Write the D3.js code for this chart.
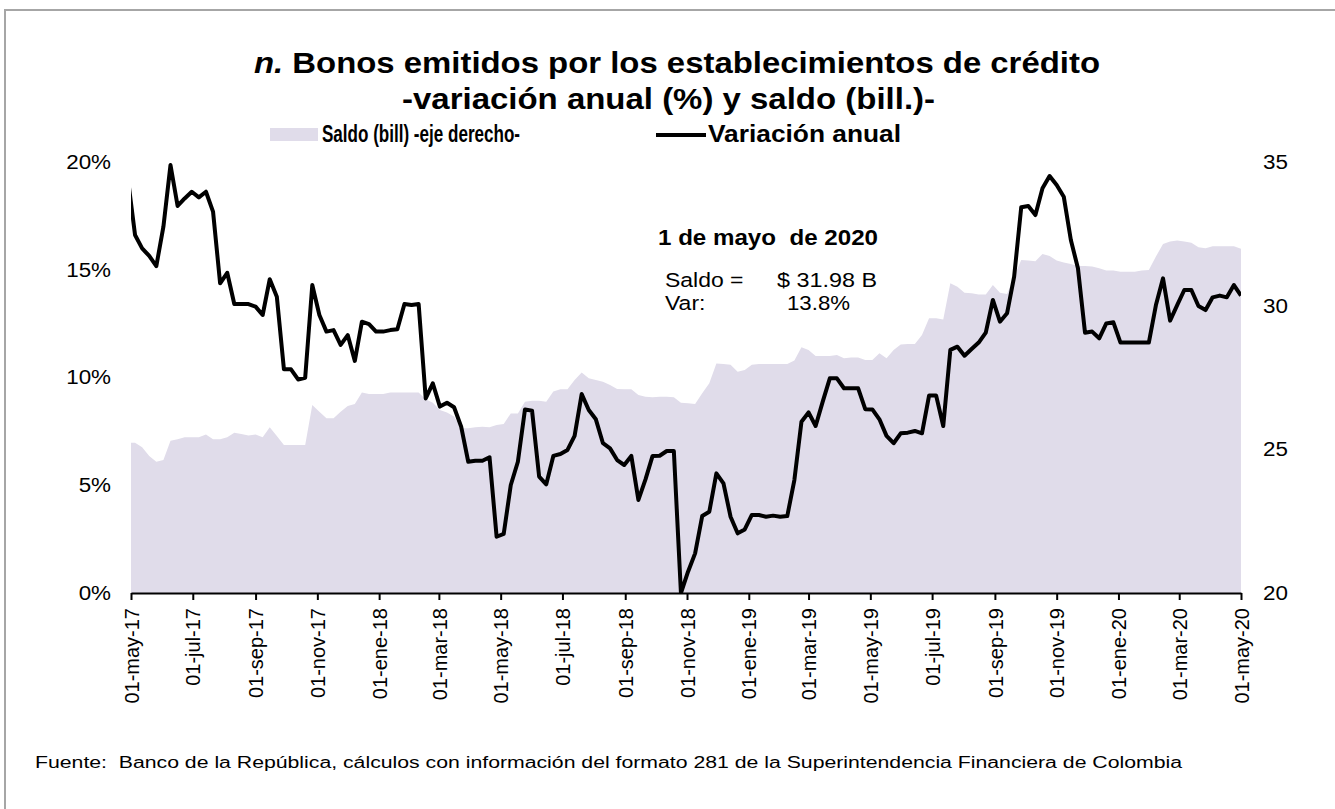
<!DOCTYPE html>
<html><head><meta charset="utf-8">
<script src="https://cdn.jsdelivr.net/npm/d3@7"></script>
<style>
body{margin:0;background:#fff}
svg{display:block}
text{font-family:"Liberation Sans",Arial,sans-serif;fill:#000;white-space:pre}
</style>
</head><body>
<svg id="c" width="1335" height="809"></svg>
<script>
// ---------- data ----------
const firstWeek = "2017-04-28"; // weekly observations (Fridays) up to 2020-05-01
const variacion = [19.2,
16.61,15.99,15.64,15.17,17.0,19.86,17.96,18.31,18.62,18.36,
18.62,17.70,14.37,14.86,13.41,13.41,13.41,13.29,12.90,14.56,
13.75,10.38,10.38,9.91,9.99,14.29,12.90,12.13,12.20,11.51,
11.97,10.77,12.59,12.48,12.13,12.13,12.20,12.24,13.41,13.36,
13.41,9.03,9.73,8.65,8.83,8.62,7.72,6.09,6.14,6.14,
6.30,2.61,2.74,5.01,6.09,8.52,8.46,5.40,5.04,6.36,
6.45,6.64,7.29,9.23,8.49,8.06,6.95,6.71,6.17,5.94,
6.36,4.32,5.27,6.36,6.37,6.59,6.59,0.0,0.99,1.84,
3.57,3.77,5.55,5.09,3.54,2.77,2.95,3.62,3.62,3.54,
3.59,3.54,3.57,5.24,7.95,8.38,7.75,8.88,9.96,9.96,
9.50,9.50,9.50,8.53,8.52,8.06,7.29,6.95,7.41,7.44,
7.52,7.41,9.16,9.16,7.75,11.28,11.43,11.01,11.32,11.62,
12.08,13.60,12.59,12.98,14.68,17.90,17.96,17.54,18.78,19.35,
18.93,18.39,16.38,15.07,12.08,12.13,11.82,12.51,12.56,11.62,
11.62,11.62,11.62,11.62,13.36,14.60,12.64,13.36,14.06,14.06,
13.32,13.13,13.72,13.80,13.72,14.29,13.80];
const saldo = [25.23,
25.23,25.07,24.77,24.57,24.63,25.30,25.35,25.42,25.42,25.42,
25.52,25.35,25.35,25.42,25.58,25.53,25.48,25.52,25.42,25.77,
25.46,25.15,25.15,25.15,25.15,26.54,26.31,26.08,26.08,26.31,
26.51,26.58,26.98,26.93,26.93,26.93,26.98,26.98,26.98,26.98,
26.98,26.74,26.62,26.37,26.28,26.14,25.73,25.73,25.77,25.79,
25.77,25.85,25.88,26.25,26.25,26.66,26.69,26.69,26.66,27.01,
27.09,27.09,27.41,27.67,27.47,27.41,27.35,27.24,27.10,27.09,
27.09,26.89,26.83,26.81,26.83,26.83,26.81,26.62,26.60,26.58,
26.95,27.30,27.99,27.97,27.94,27.70,27.76,27.94,27.97,27.97,
27.97,27.97,27.97,28.09,28.55,28.46,28.25,28.25,28.25,28.28,
28.17,28.20,28.20,28.11,28.11,28.34,28.17,28.46,28.65,28.67,
28.67,28.98,29.56,29.56,29.52,30.78,30.66,30.45,30.43,30.39,
30.39,30.72,30.45,30.41,31.01,31.59,31.57,31.55,31.80,31.73,
31.57,31.50,31.45,31.38,31.38,31.36,31.30,31.22,31.22,31.18,
31.18,31.18,31.22,31.24,31.71,32.15,32.23,32.27,32.23,32.19,
32.03,32.00,32.07,32.07,32.07,32.07,31.98];
const tickLabels = ["01-may-17","01-jul-17","01-sep-17","01-nov-17","01-ene-18","01-mar-18",
"01-may-18","01-jul-18","01-sep-18","01-nov-18","01-ene-19","01-mar-19","01-may-19",
"01-jul-19","01-sep-19","01-nov-19","01-ene-20","01-mar-20","01-may-20"];
const leftTicks = [0,5,10,15,20];
const rightTicks = [20,25,30,35];
const titleLine1 = ["n.", " Bonos emitidos por los establecimientos de crédito"];
const titleLine2 = "-variación anual (%) y saldo (bill.)-";
const legendArea = "Saldo (bill) -eje derecho-";
const legendLine = "Variación anual";
const noteDate = "1 de mayo  de 2020";
const noteSaldo = ["Saldo =", "$ 31.98 B"];
const noteVar = ["Var:", "13.8%"];
const source = "Fuente:  Banco de la República, cálculos con información del formato 281 de la Superintendencia Financiera de Colombia";

// ---------- setup ----------
const svg = d3.select("#c");
const monthIdx = {ene:0,feb:1,mar:2,abr:3,may:4,jun:5,jul:6,ago:7,sep:8,oct:9,nov:10,dic:11};
const parseLabel = s => { const p = s.split("-"); return new Date(Date.UTC(2000 + +p[2], monthIdx[p[1]], +p[0])); };
const tickDates = tickLabels.map(parseLabel);
const start = d3.utcParse("%Y-%m-%d")(firstWeek);
const data = variacion.map((v,i) => ({date: d3.utcDay.offset(start, 7*i), v, s: saldo[i]}));

const L = 131, R = 1241, T = 162, B = 593;
const x = d3.scaleUtc().domain([tickDates[0], tickDates[tickDates.length-1]]).range([L, R]);
const yL = d3.scaleLinear().domain([0, 20]).range([B, T]);
const yR = d3.scaleLinear().domain([20, 35]).range([B, T]);

const SX = 1.12;
function stretch(sel, f) {
  sel.each(function(){ const w = this.getComputedTextLength(); this.setAttribute("textLength", w*(f||SX)); this.setAttribute("lengthAdjust","spacingAndGlyphs"); });
}
function fit(sel, w) { sel.attr("textLength", w).attr("lengthAdjust","spacingAndGlyphs"); }

// frame
svg.append("path").attr("d", "M5,809 V10 H1335").attr("fill","none").attr("stroke","#a6a6a6").attr("stroke-width",2);

// clip
svg.append("clipPath").attr("id","pc").append("rect").attr("x",L).attr("y",0).attr("width",R-L).attr("height",B+1);

// area
svg.append("path").datum(data).attr("clip-path","url(#pc)")
  .attr("fill","#e0dcea")
  .attr("d", d3.area().x(d=>x(d.date)).y0(yR(20)).y1(d=>yR(d.s)));

// x axis
const xa = svg.append("g").attr("transform",`translate(0,${B})`)
  .call(d3.axisBottom(x).tickValues(tickDates).tickSize(7).tickSizeOuter(0).tickFormat((d,i)=>tickLabels[i]));
xa.select(".domain").attr("stroke","#000").attr("stroke-width",2);
xa.selectAll(".tick line").attr("stroke","#000").attr("stroke-width",2);
xa.selectAll(".tick text").attr("font-size",20).attr("font-family",'"Liberation Sans",Arial,sans-serif')
  .attr("transform","rotate(-90)").attr("text-anchor","end").attr("x",-15).attr("y",0).attr("dy","0.36em").attr("fill","#000");

// line
svg.append("path").datum(data).attr("clip-path","url(#pc)")
  .attr("fill","none").attr("stroke","#000").attr("stroke-width",4).attr("stroke-linejoin","round")
  .attr("d", d3.line().x(d=>x(d.date)).y(d=>yL(d.v)));

// left axis
const la = svg.append("g").attr("transform",`translate(${L},0)`)
  .call(d3.axisLeft(yL).tickValues(leftTicks).tickSize(0).tickPadding(20).tickFormat(d=>d+"%"));
la.select(".domain").remove();
la.selectAll("text").attr("font-size",20).attr("font-family",'"Liberation Sans",Arial,sans-serif').attr("fill","#000").call(stretch);

// right axis
const ra = svg.append("g").attr("transform",`translate(${R},0)`)
  .call(d3.axisRight(yR).tickValues(rightTicks).tickSize(0).tickPadding(22).tickFormat(d3.format("d")));
ra.select(".domain").remove();
ra.selectAll("text").attr("font-size",20).attr("font-family",'"Liberation Sans",Arial,sans-serif').attr("fill","#000").call(stretch);

// title
const t1 = svg.append("text").attr("x",254).attr("y",73).attr("font-size",29).attr("font-weight","bold");
t1.append("tspan").attr("font-style","italic").text(titleLine1[0]);
t1.append("tspan").text(titleLine1[1]);
fit(t1, 846);
svg.append("text").attr("x",402).attr("y",109).attr("font-size",29).attr("font-weight","bold").text(titleLine2).call(fit, 533);

// legend
svg.append("rect").attr("x",270).attr("y",128).attr("width",48).attr("height",13).attr("fill","#e0dcea");
svg.append("text").attr("x",322).attr("y",142).attr("font-size",23).attr("font-weight","bold").text(legendArea).call(fit, 198);
svg.append("line").attr("x1",656).attr("x2",706).attr("y1",135).attr("y2",135).attr("stroke","#000").attr("stroke-width",4);
svg.append("text").attr("x",708).attr("y",142).attr("font-size",23).attr("font-weight","bold").text(legendLine).call(fit, 193);

// annotation
svg.append("text").attr("x",658).attr("y",245).attr("font-size",21.5).attr("font-weight","bold").text(noteDate).call(fit, 220);
svg.append("text").attr("x",665).attr("y",287).attr("font-size",20.5).text(noteSaldo[0]).call(stretch);
svg.append("text").attr("x",777).attr("y",287).attr("font-size",20.5).text(noteSaldo[1]).call(fit, 100);
svg.append("text").attr("x",665).attr("y",310).attr("font-size",20.5).text(noteVar[0]).call(stretch);
svg.append("text").attr("x",787).attr("y",310).attr("font-size",20.5).text(noteVar[1]).call(fit, 63);

// source
svg.append("text").attr("x",35).attr("y",768).attr("font-size",16).attr("font-family",'"Open Sans",sans-serif').text(source).call(fit, 1147);
</script>
</body></html>
